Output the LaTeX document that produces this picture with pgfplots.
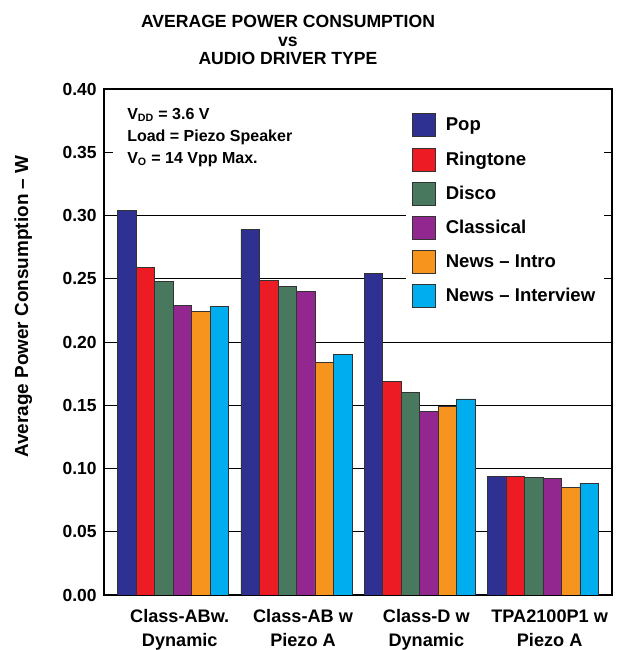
\documentclass[border=0pt]{standalone}
\usepackage{fontspec}
\setmainfont{Liberation Sans}
\usepackage{pgfplots}
\pgfplotsset{compat=1.18}

\definecolor{popblue}{RGB}{46,49,146}
\definecolor{ringred}{RGB}{237,28,36}
\definecolor{discogreen}{RGB}{72,121,95}
\definecolor{classpurple}{RGB}{146,39,143}
\definecolor{introorange}{RGB}{247,148,29}
\definecolor{intercyan}{RGB}{0,174,239}

\begin{document}
\begin{tikzpicture}[x=0.75pt,y=0.75pt]
\useasboundingbox (0,0) rectangle (618,650);

% Title
\node[align=center, font=\bfseries\fontsize{13.2}{13.6}\selectfont] at (288,610)
  {AVERAGE POWER CONSUMPTION\\vs\\AUDIO DRIVER TYPE};

\begin{axis}[
    at={(78pt,41.25pt)}, anchor=south west,
    scale only axis,
    width=381pt, height=379.5pt,
    ybar=0pt, bar width=0.15,
    xmin=-0.56, xmax=3.56,
    ymin=0, ymax=0.4,
    xtick={0,1,2,3},
    xticklabels={{Class-ABw.\\Dynamic},{Class-AB w\\Piezo A},{Class-D w\\Dynamic},{TPA2100P1 w\\Piezo A}},
    xticklabel style={align=center, font=\bfseries\fontsize{13.6}{18}\selectfont, xshift=5pt, yshift=-7.5pt},
    ytick={0,0.05,0.10,0.15,0.20,0.25,0.30,0.35,0.40},
    yticklabel style={font=\bfseries\fontsize{13.1}{15}\selectfont, xshift=-2pt,
        /pgf/number format/.cd, fixed, fixed zerofill, precision=2, assume math mode=true},
    ymajorgrids,
    grid style={black, line width=0.6pt},
    major tick length=0pt,
    axis line style={line width=2pt},
    ylabel={Average Power Consumption -- W},
    ylabel style={at={(rel axis cs:-0.159,0.57)}, anchor=center, font=\bfseries\fontsize{14.2}{16}\selectfont},
    every axis plot/.append style={draw=black!80, line width=0.5pt},
    legend image code/.code={\draw[#1, draw=black!80, line width=0.5pt] (0pt,-8.6pt) rectangle (17.25pt,8.6pt);},
    legend style={at={(rel axis cs:0.593,0.964)}, anchor=north west, draw=none, fill=white,
        inner sep=4.5pt, row sep=7.9pt,
        font=\bfseries\fontsize{13.9}{16}\selectfont,
        /tikz/every odd column/.append style={column sep=6pt}},
    legend cell align=left,
]
\addplot[fill=popblue] coordinates {(0,0.304) (1,0.289) (2,0.254) (3,0.094)};
\addplot[fill=ringred] coordinates {(0,0.259) (1,0.249) (2,0.169) (3,0.094)};
\addplot[fill=discogreen] coordinates {(0,0.248) (1,0.244) (2,0.160) (3,0.093)};
\addplot[fill=classpurple] coordinates {(0,0.229) (1,0.240) (2,0.145) (3,0.092)};
\addplot[fill=introorange] coordinates {(0,0.224) (1,0.184) (2,0.149) (3,0.085)};
\addplot[fill=intercyan] coordinates {(0,0.228) (1,0.190) (2,0.155) (3,0.088)};
\legend{Pop, Ringtone, Disco, Classical, News -- Intro, News -- Interview}

% conditions box
\fill[white] (rel axis cs:0.0177,0.984) rectangle (rel axis cs:0.61,0.82);
\node[anchor=north west, align=left, inner sep=0pt,
      font=\bfseries\fontsize{12}{16.5}\selectfont] at (rel axis cs:0.0453,0.963)
  {V\textsubscript{DD} = 3.6 V\\Load = Piezo Speaker\\V\textsubscript{O} = 14 Vpp Max.};
\end{axis}
\end{tikzpicture}
\end{document}
